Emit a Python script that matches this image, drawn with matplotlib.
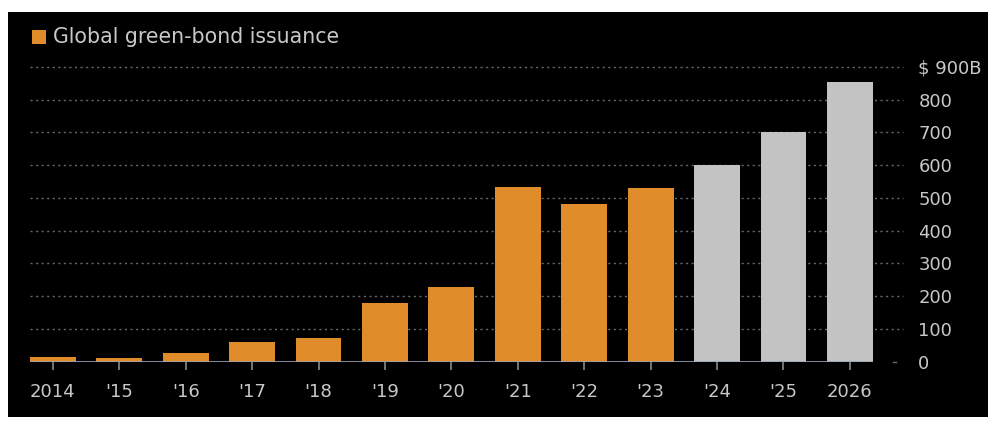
import matplotlib
matplotlib.use('Agg')
import matplotlib.pyplot as plt
from matplotlib.patches import Rectangle
import numpy as np

# data ($ billions)
years = ['2014', "'15", "'16", "'17", "'18", "'19", "'20", "'21", "'22", "'23", "'24", "'25", '2026']
issuance = [13, 12, 26, 61, 72, 180, 229, 532, 483, 529, 602, 703, 853]
forecast = [False]*10 + [True]*3
ytick_vals = [0, 100, 200, 300, 400, 500, 600, 700, 800, 900]
ytick_labels = ['0', '100', '200', '300', '400', '500', '600', '700', '800', '$ 900B']

orange = '#E08C2A'
grey_bar = '#C3C3C3'
txt = '#C8C8C8'

W, H = 989, 423
fig = plt.figure(figsize=(W/100, H/100), dpi=100, facecolor='white')
# black panel inside the white border
fig.patches.append(Rectangle((8/W, 1-417/H), (988-8)/W, (417-12)/H,
                             transform=fig.transFigure, facecolor='black',
                             edgecolor='none', zorder=-5))

ax_l, ax_r = 30, 903
ax_b, ax_t = 361.7, 67
ax = fig.add_axes([ax_l/W, 1-ax_b/H, (ax_r-ax_l)/W, (ax_b-ax_t)/H])
ax.set_facecolor('none')

x = np.arange(len(years))
colors = [grey_bar if f else orange for f in forecast]
bw = 0.69
ax.bar(x, issuance, width=bw, color=colors, zorder=3)
ax.hlines(0, -bw/2, len(years)-1+bw/2, color='#9AA4B4', linewidth=1.2, zorder=4)

ax.set_xlim(-bw/2, 12.8)
ax.set_ylim(0, 900)
for v in ytick_vals[1:]:
    ax.axhline(v, color='#6A6A6A', linewidth=1.0, linestyle=(0, (1.5, 2.5)), zorder=1, clip_on=False)
ax.plot([12.65, 12.7], [0, 0], color='#6A6A6A', linewidth=1.0, zorder=1, clip_on=False)

for s in ax.spines.values():
    s.set_visible(False)

ax.set_xticks(x)
ax.set_xticklabels(years)
ax.tick_params(axis='x', colors='#8A8A8A', length=6, width=1.2, pad=9, labelsize=13,
               labelcolor=txt, direction='out')
ax.yaxis.tick_right()
ax.set_yticks(ytick_vals)
ax.set_yticklabels(ytick_labels)
ax.tick_params(axis='y', length=0, pad=11, labelsize=13, labelcolor=txt)

# legend
fig.patches.append(Rectangle((32/W, 1-44/H), 14/W, 14/H, transform=fig.transFigure,
                             facecolor=orange, edgecolor='none', zorder=2))
fig.text(53/W, 1-37/H, 'Global green-bond issuance', color=txt, fontsize=14.8,
         ha='left', va='center')

fig.savefig('out.png', dpi=100, facecolor='white')
